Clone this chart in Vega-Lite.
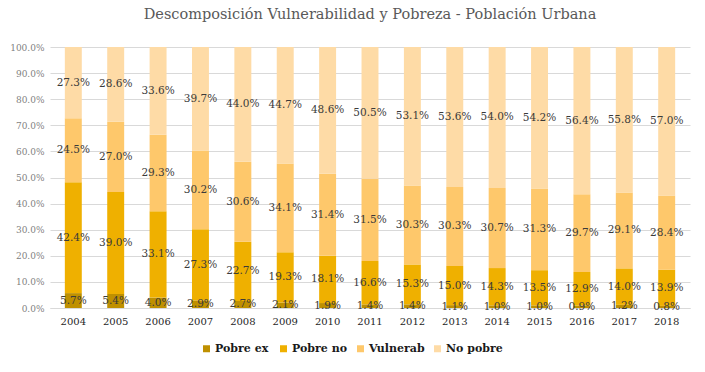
{
  "$schema": "https://vega.github.io/schema/vega-lite/v6.json",
  "autosize": "none",
  "width": 640,
  "height": 261,
  "padding": {"left": 50, "top": 47, "right": 15, "bottom": 64},
  "background": "white",
  "title": {
    "text": "Descomposición Vulnerabilidad y Pobreza - Población Urbana",
    "font": "DejaVu Serif",
    "fontSize": 14.5,
    "fontWeight": "normal",
    "color": "#595959",
    "anchor": "middle",
    "frame": "group",
    "offset": 21
  },
  "config": {
    "view": {"stroke": null},
    "font": "DejaVu Serif"
  },
  "data": {
    "values": [
      {"year": "2004", "cat": "Pobre ex", "v": 5.7}, {"year": "2004", "cat": "Pobre no", "v": 42.4}, {"year": "2004", "cat": "Vulnerab", "v": 24.5}, {"year": "2004", "cat": "No pobre", "v": 27.3},
      {"year": "2005", "cat": "Pobre ex", "v": 5.4}, {"year": "2005", "cat": "Pobre no", "v": 39.0}, {"year": "2005", "cat": "Vulnerab", "v": 27.0}, {"year": "2005", "cat": "No pobre", "v": 28.6},
      {"year": "2006", "cat": "Pobre ex", "v": 4.0}, {"year": "2006", "cat": "Pobre no", "v": 33.1}, {"year": "2006", "cat": "Vulnerab", "v": 29.3}, {"year": "2006", "cat": "No pobre", "v": 33.6},
      {"year": "2007", "cat": "Pobre ex", "v": 2.9}, {"year": "2007", "cat": "Pobre no", "v": 27.3}, {"year": "2007", "cat": "Vulnerab", "v": 30.2}, {"year": "2007", "cat": "No pobre", "v": 39.7},
      {"year": "2008", "cat": "Pobre ex", "v": 2.7}, {"year": "2008", "cat": "Pobre no", "v": 22.7}, {"year": "2008", "cat": "Vulnerab", "v": 30.6}, {"year": "2008", "cat": "No pobre", "v": 44.0},
      {"year": "2009", "cat": "Pobre ex", "v": 2.1}, {"year": "2009", "cat": "Pobre no", "v": 19.3}, {"year": "2009", "cat": "Vulnerab", "v": 34.1}, {"year": "2009", "cat": "No pobre", "v": 44.7},
      {"year": "2010", "cat": "Pobre ex", "v": 1.9}, {"year": "2010", "cat": "Pobre no", "v": 18.1}, {"year": "2010", "cat": "Vulnerab", "v": 31.4}, {"year": "2010", "cat": "No pobre", "v": 48.6},
      {"year": "2011", "cat": "Pobre ex", "v": 1.4}, {"year": "2011", "cat": "Pobre no", "v": 16.6}, {"year": "2011", "cat": "Vulnerab", "v": 31.5}, {"year": "2011", "cat": "No pobre", "v": 50.5},
      {"year": "2012", "cat": "Pobre ex", "v": 1.4}, {"year": "2012", "cat": "Pobre no", "v": 15.3}, {"year": "2012", "cat": "Vulnerab", "v": 30.3}, {"year": "2012", "cat": "No pobre", "v": 53.1},
      {"year": "2013", "cat": "Pobre ex", "v": 1.1}, {"year": "2013", "cat": "Pobre no", "v": 15.0}, {"year": "2013", "cat": "Vulnerab", "v": 30.3}, {"year": "2013", "cat": "No pobre", "v": 53.6},
      {"year": "2014", "cat": "Pobre ex", "v": 1.0}, {"year": "2014", "cat": "Pobre no", "v": 14.3}, {"year": "2014", "cat": "Vulnerab", "v": 30.7}, {"year": "2014", "cat": "No pobre", "v": 54.0},
      {"year": "2015", "cat": "Pobre ex", "v": 1.0}, {"year": "2015", "cat": "Pobre no", "v": 13.5}, {"year": "2015", "cat": "Vulnerab", "v": 31.3}, {"year": "2015", "cat": "No pobre", "v": 54.2},
      {"year": "2016", "cat": "Pobre ex", "v": 0.9}, {"year": "2016", "cat": "Pobre no", "v": 12.9}, {"year": "2016", "cat": "Vulnerab", "v": 29.7}, {"year": "2016", "cat": "No pobre", "v": 56.4},
      {"year": "2017", "cat": "Pobre ex", "v": 1.2}, {"year": "2017", "cat": "Pobre no", "v": 14.0}, {"year": "2017", "cat": "Vulnerab", "v": 29.1}, {"year": "2017", "cat": "No pobre", "v": 55.8},
      {"year": "2018", "cat": "Pobre ex", "v": 0.8}, {"year": "2018", "cat": "Pobre no", "v": 13.9}, {"year": "2018", "cat": "Vulnerab", "v": 28.4}, {"year": "2018", "cat": "No pobre", "v": 57.0}
    ]
  },
  "transform": [
    {"calculate": "indexof(['Pobre ex','Pobre no','Vulnerab','No pobre'], datum.cat)", "as": "ord"},
    {"stack": "v", "groupby": ["year"], "sort": [{"field": "ord", "order": "ascending"}], "offset": "normalize", "as": ["y0", "y1"]},
    {"calculate": "(datum.y0 + datum.y1) / 2", "as": "ymid"},
    {"calculate": "format(datum.v, '.1f') + '%'", "as": "label"}
  ],
  "encoding": {
    "x": {
      "field": "year",
      "type": "nominal",
      "scale": {"paddingInner": 0.6, "paddingOuter": 0.35},
      "axis": {
        "title": null,
        "labelAngle": 0,
        "labelFontSize": 10,
        "labelColor": "#262626",
        "labelPadding": 8,
        "ticks": false,
        "domainColor": "#D9D9D9",
        "domainWidth": 1
      }
    }
  },
  "layer": [
    {
      "mark": {"type": "bar"},
      "encoding": {
        "y": {
          "field": "y0",
          "type": "quantitative",
          "scale": {"domain": [0, 1], "nice": false},
          "axis": {
            "title": null,
            "format": ".1%",
            "values": [0, 0.1, 0.2, 0.3, 0.4, 0.5, 0.6, 0.7, 0.8, 0.9, 1.0],
            "labelOverlap": false,
            "labelFontSize": 9,
            "labelColor": "#7F7F7F",
            "labelPadding": 6,
            "ticks": false,
            "domain": false,
            "grid": true,
            "gridColor": "#D9D9D9",
            "gridWidth": 1
          }
        },
        "y2": {"field": "y1"},
        "color": {
          "field": "cat",
          "type": "nominal",
          "scale": {
            "domain": ["Pobre ex", "Pobre no", "Vulnerab", "No pobre"],
            "range": ["#BF9000", "#EFB000", "#FEC86B", "#FEDBA6"]
          },
          "legend": {
            "title": null,
            "orient": "none",
            "legendX": 151,
            "legendY": 296,
            "direction": "horizontal",
            "gridAlign": "all",
            "symbolType": "square",
            "symbolSize": 49,
            "symbolStrokeWidth": 0,
            "labelFontSize": 11,
            "labelFontWeight": "bold",
            "labelColor": "#1a1a1a",
            "columnPadding": 6,
            "labelOffset": 3
          }
        }
      }
    },
    {
      "mark": {"type": "text", "fontSize": 10.5, "color": "#3a3a3a", "baseline": "middle"},
      "encoding": {
        "y": {
          "field": "ymid",
          "type": "quantitative",
          "axis": {
            "title": null,
            "format": ".1%",
            "values": [0, 0.1, 0.2, 0.3, 0.4, 0.5, 0.6, 0.7, 0.8, 0.9, 1.0],
            "labelOverlap": false,
            "labelFontSize": 9,
            "labelColor": "#7F7F7F",
            "labelPadding": 6,
            "ticks": false,
            "domain": false,
            "grid": true,
            "gridColor": "#D9D9D9",
            "gridWidth": 1
          }
        },
        "text": {"field": "label", "type": "nominal"}
      }
    }
  ]
}
